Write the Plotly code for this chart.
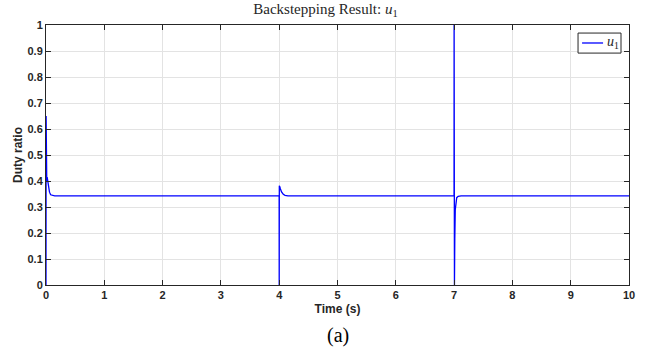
import plotly.graph_objects as go

time_s = [0, 0.002, 0.004, 0.006, 0.008, 0.010, 0.013, 0.02, 0.03, 0.045, 0.06, 0.08, 0.11, 0.15, 0.25,
          3.999, 4.0, 4.002, 4.01, 4.02, 4.04, 4.07, 4.1, 4.15, 4.25,
          6.999, 7.0, 7.001, 7.006, 7.012, 7.02, 7.03, 7.045, 7.07, 7.12, 10.0]
u1 = [0.0, 0.65, 0.12, 0.55, 0.2, 0.42, 0.40, 0.415, 0.40, 0.375, 0.357, 0.347, 0.344, 0.343, 0.343,
      0.343, 0.0, 0.382, 0.378, 0.37, 0.358, 0.349, 0.345, 0.343, 0.343,
      0.343, 1.0, 0.0, 0.0, 0.18, 0.29, 0.325, 0.336, 0.341, 0.343, 0.343]

x_ticks = list(range(0, 11))
y_ticks = [round(i * 0.1, 1) for i in range(0, 11)]
y_tick_text = ["0", "0.1", "0.2", "0.3", "0.4", "0.5", "0.6", "0.7", "0.8", "0.9", "1"]

fig = go.Figure()
fig.add_trace(go.Scatter(x=time_s, y=u1, mode="lines", name="u1", showlegend=False,
                         line=dict(color="#0000ff", width=1.3)))

axis_common = dict(showline=True, linecolor="#262626", linewidth=1, mirror="ticks",
                   ticks="inside", ticklen=5, tickcolor="#262626", automargin=False,
                   showgrid=True, gridcolor="#e3e3e3", gridwidth=1, zeroline=False,
                   tickfont=dict(family="Liberation Sans", size=11, color="#262626"))

fig.update_layout(
    width=651, height=349,
    margin=dict(l=46, r=22, t=25, b=64, autoexpand=False),
    paper_bgcolor="white", plot_bgcolor="white",
    title=dict(text="Backstepping Result: <i>u</i><sub>1</sub>", x=0.5, xanchor="center",
               y=0.99, yanchor="top",
               font=dict(family="Liberation Serif", size=15, color="#262626")),
    xaxis=dict(range=[0, 10], tickvals=x_ticks, ticktext=[f"<b>{t}</b>" for t in x_ticks],
               title=dict(text="<b>Time (s)</b>", standoff=4,
                          font=dict(family="Liberation Sans", size=12, color="#262626")),
               **axis_common),
    yaxis=dict(range=[0, 1], tickvals=y_ticks, ticktext=[f"<b>{t}</b>" for t in y_tick_text],
               title=dict(text="<b>Duty ratio</b>", standoff=2,
                          font=dict(family="Liberation Sans", size=12, color="#262626")),
               **axis_common),
    showlegend=False,
    shapes=[
        dict(type="rect", xref="paper", yref="paper", x0=0.9126, x1=0.9863, y0=0.892, y1=0.969,
             line=dict(color="#262626", width=1), fillcolor="white", layer="above"),
        dict(type="line", xref="paper", yref="paper", x0=0.9195, x1=0.9555, y0=0.9308, y1=0.9308,
             line=dict(color="#0000ff", width=1.3), layer="above"),
    ],
    annotations=[
        dict(text="<i>u</i><sub>1</sub>", x=0.958, y=0.9308, xref="paper", yref="paper",
             xanchor="left", yanchor="middle", showarrow=False,
             font=dict(family="Liberation Serif", size=14, color="#262626")),
        dict(text="(a)", x=0.5, y=-0.196, xref="paper", yref="paper",
             xanchor="center", yanchor="middle", showarrow=False,
             font=dict(family="Liberation Serif", size=20, color="black")),
    ],
)

fig.write_html("out.html", config={"displayModeBar": False},
               post_script="document.body.style.margin='0';")
